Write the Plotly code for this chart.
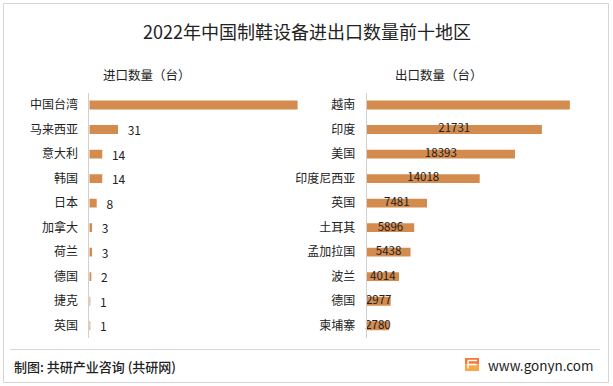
import plotly.graph_objects as go

import_regions = ["中国台湾", "马来西亚", "意大利", "韩国", "日本", "加拿大", "荷兰", "德国", "捷克", "英国"]
import_values = [225, 31, 14, 14, 8, 3, 3, 2, 1, 1]
import_labels = ["", "31", "14", "14", "8", "3", "3", "2", "1", "1"]

export_regions = ["越南", "印度", "美国", "印度尼西亚", "英国", "土耳其", "孟加拉国", "波兰", "德国", "柬埔寨"]
export_values = [25200, 21731, 18393, 14018, 7481, 5896, 5438, 4014, 2977, 2780]
export_labels = ["", "21731", "18393", "14018", "7481", "5896", "5438", "4014", "2977", "2780"]

BAR = "#D48B4E"
FONT = "Noto Sans CJK SC, Microsoft YaHei, sans-serif"
W, H = 613, 386

fig = go.Figure()

fig.add_trace(go.Bar(
    x=import_values, y=import_regions, orientation="h",
    marker=dict(color=BAR, line=dict(width=0)), width=0.36,
    text=["\u2007" + t if t else "" for t in import_labels],
    textposition="outside", cliponaxis=False, constraintext="none",
    textfont=dict(size=12, color="#222222", family=FONT),
    xaxis="x", yaxis="y", showlegend=False, hoverinfo="skip"))

fig.add_trace(go.Bar(
    x=export_values, y=export_regions, orientation="h",
    marker=dict(color=BAR, line=dict(width=0)), width=0.36,
    xaxis="x2", yaxis="y2", showlegend=False, hoverinfo="skip"))

fig.add_trace(go.Scatter(
    x=[v / 2 for v in export_values], y=export_regions, mode="text",
    text=export_labels, textposition="middle center", cliponaxis=False,
    textfont=dict(size=11.5, color="#222222", family=FONT),
    xaxis="x2", yaxis="y2", showlegend=False, hoverinfo="skip"))

# plot area pixel geometry
top, bottom = 92.75, 338.0
L1, R1 = 89.3, 311.5
L2, R2 = 366.7, 600.5

ytick = dict(size=12, color="#222222", family=FONT)
fig.update_layout(
    width=W, height=H,
    margin=dict(l=0, r=0, t=0, b=0),
    paper_bgcolor="white", plot_bgcolor="rgba(0,0,0,0)",
    font=dict(family=FONT, color="#222222"),
    xaxis=dict(domain=[L1 / W, R1 / W], range=[0, 240], visible=False, fixedrange=True),
    yaxis=dict(domain=[1 - bottom / H, 1 - top / H], anchor="x",
               categoryorder="array", categoryarray=import_regions[::-1],
               range=[-0.5, 9.5], showgrid=False, zeroline=False,
               showline=True, linecolor="#D0D0D0", linewidth=1,
               ticks="", ticklabelstandoff=8, tickfont=ytick),
    xaxis2=dict(domain=[L2 / W, R2 / W], range=[0, 29000], visible=False, fixedrange=True,
                anchor="y2"),
    yaxis2=dict(domain=[1 - bottom / H, 1 - top / H], anchor="x2",
                categoryorder="array", categoryarray=export_regions[::-1],
                range=[-0.5, 9.5], showgrid=False, zeroline=False,
                showline=True, linecolor="#D0D0D0", linewidth=1,
                ticks="", ticklabelstandoff=8, tickfont=ytick),
)

def px(x, y):
    return x / W, 1 - y / H

annos = [
    dict(text="2022年中国制鞋设备进出口数量前十地区", x=307, y=30.5, size=18, anchor="center", w=400),
    dict(text="进口数量（台）", x=101, y=74, size=12.5, anchor="left", w=400),
    dict(text="出口数量（台）", x=393, y=74, size=12.5, anchor="left", w=400),
    dict(text="制图: 共研产业咨询 (共研网)", x=12, y=366.5, size=13, anchor="left", w=500),
    dict(text="www.gonyn.com", x=486, y=364.5, size=13.5, anchor="left", w=400),
]
for a in annos:
    xx, yy = px(a["x"], a["y"])
    fig.add_annotation(text=a["text"], x=xx, y=yy, xref="paper", yref="paper",
                       xanchor=a["anchor"], yanchor="middle", showarrow=False,
                       font=dict(size=a["size"], color="#222222", family=FONT, weight=a["w"]))

# logo
fig.add_shape(type="rect", xref="paper", yref="paper",
              x0=465 / W, x1=479 / W, y0=1 - 364.5 / H, y1=1 - 358 / H,
              fillcolor="#F47A3A", line=dict(width=0))
fig.add_shape(type="rect", xref="paper", yref="paper",
              x0=465 / W, x1=479 / W, y0=1 - 371 / H, y1=1 - 364.5 / H,
              fillcolor="#F8A848", line=dict(width=0))
fig.add_shape(type="line", xref="paper", yref="paper",
              x0=468 / W, x1=476.5 / W, y0=1 - 364.5 / H, y1=1 - 364.5 / H,
              line=dict(color="white", width=1.6))
fig.add_shape(type="line", xref="paper", yref="paper",
              x0=468 / W, x1=468 / W, y0=1 - 368.5 / H, y1=1 - 360.5 / H,
              line=dict(color="white", width=1.4))
fig.add_shape(type="line", xref="paper", yref="paper",
              x0=468 / W, x1=477 / W, y0=1 - 360.5 / H, y1=1 - 360.5 / H,
              line=dict(color="white", width=1.4))

# frame and separator
fig.add_shape(type="rect", xref="paper", yref="paper",
              x0=3.5 / W, x1=608.5 / W, y0=1 - 382.5 / H, y1=1 - 3.5 / H,
              line=dict(color="#D6D6D6", width=1), fillcolor="rgba(0,0,0,0)")
fig.add_shape(type="line", xref="paper", yref="paper",
              x0=10 / W, x1=600 / W, y0=1 - 349.5 / H, y1=1 - 349.5 / H,
              line=dict(color="#D6D6D6", width=1))

fig.write_html("out.html", config={"displayModeBar": False},
               post_script="document.body.style.margin='0';document.body.style.overflow='hidden';")
